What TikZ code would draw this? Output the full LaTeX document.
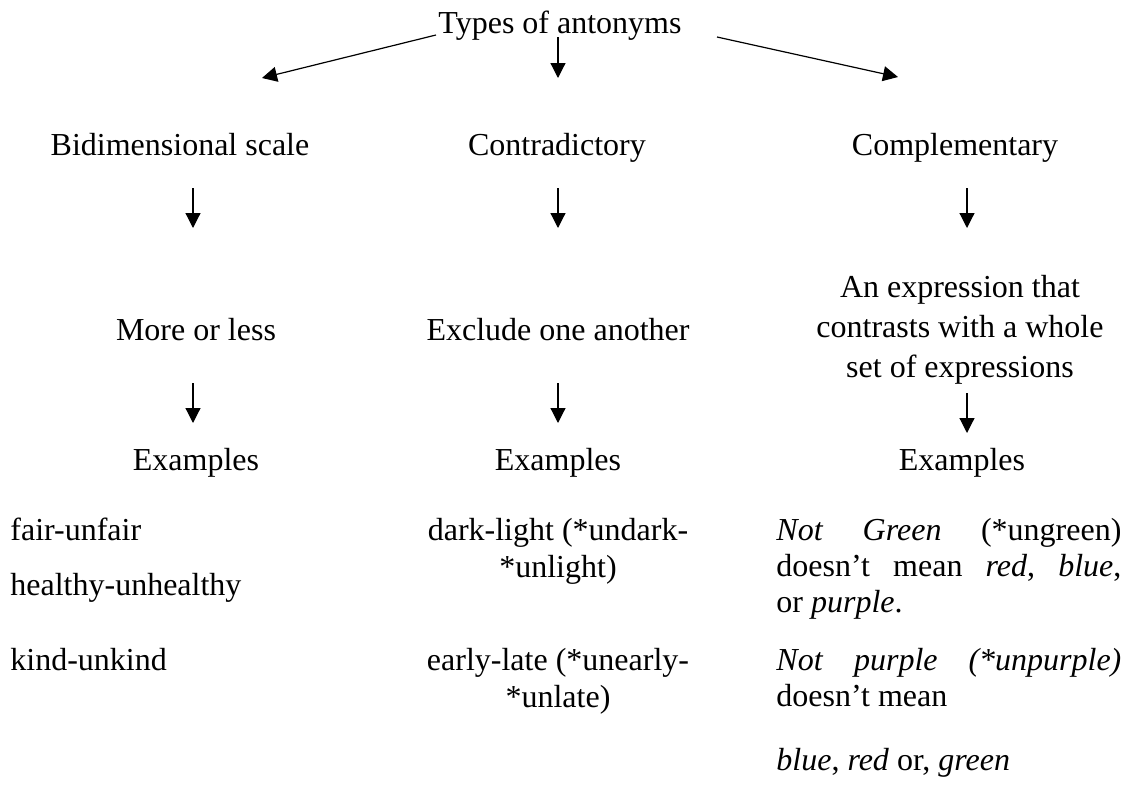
\documentclass[tikz,border=0pt]{standalone}
\usepackage{fontspec}
\setmainfont{Liberation Serif}
\usetikzlibrary{arrows.meta}
\begin{document}
\begin{tikzpicture}[x=0.5pt,y=-0.5pt,
  lbl/.style={font=\fontsize{16}{18}\selectfont, inner sep=0pt, anchor=base},
  lblw/.style={lbl, anchor=base west},
  link/.style={line width=0.6pt, -{Triangle[length=7.5pt,width=7.5pt]}}]
\useasboundingbox (0,0) rectangle (1131,787);

% title
\node[lbl] (types) at (560,33) {Types of antonyms};

% first level
\node[lbl] (bidim) at (180,155) {Bidimensional scale};
\node[lbl] (contra) at (557,155) {Contradictory};
\node[lbl] (compl) at (955,155) {Complementary};

% second level
\node[lbl] (more) at (196,340) {More or less};
\node[lbl] (excl) at (558,340) {Exclude one another};
\node[lbl] (expr1) at (960,297) {An expression that};
\node[lbl] (expr2) at (960,337) {contrasts with a whole};
\node[lbl] (expr3) at (960,377) {set of expressions};

% example headings
\node[lbl] (exA) at (196,470) {Examples};
\node[lbl] (exB) at (558,470) {Examples};
\node[lbl] (exC) at (962,470) {Examples};

% left column examples
\node[lblw] (fair) at (10,540) {fair-unfair};
\node[lblw] (healthy) at (10,595) {healthy-unhealthy};
\node[lblw] (kind) at (10,670) {kind-unkind};

% middle column examples
\node[lbl] (dark1) at (558,540) {dark-light (*undark-};
\node[lbl] (dark2) at (558,577) {*unlight)};
\node[lbl] (early1) at (558,670) {early-late (*unearly-};
\node[lbl] (early2) at (558,707) {*unlate)};

% right column examples (justified lines)
\node[lblw] (green1) at (776,540) {\hbox to 172.5pt{\textit{Not}\hfill\textit{Green}\hfill(*ungreen)}};
\node[lblw] (green2) at (776,576) {\hbox to 172.5pt{doesn’t\hfill mean\hfill\textit{red},\hfill\textit{blue},}};
\node[lblw] (green3) at (776,612) {or \textit{purple}.};
\node[lblw] (purp1) at (776,670) {\hbox to 172.5pt{\textit{Not}\hfill\textit{purple}\hfill\textit{(*unpurple)}}};
\node[lblw] (purp2) at (776,706) {doesn’t mean};
\node[lblw] (purp3) at (776,770) {\textit{blue}, \textit{red} or, \textit{green}};

% arrow end points
\coordinate (tL) at (436,35);
\coordinate (tM) at (558,37);
\coordinate (tR) at (717,37);
\coordinate (hL) at (262,78);
\coordinate (hM) at (558,78);
\coordinate (hR) at (898,77);

\coordinate (a1s) at (193,188);  \coordinate (a1e) at (193,228);
\coordinate (b1s) at (558,188);  \coordinate (b1e) at (558,228);
\coordinate (c1s) at (967,188);  \coordinate (c1e) at (967,228);
\coordinate (a2s) at (193,383);  \coordinate (a2e) at (193,423);
\coordinate (b2s) at (558,383);  \coordinate (b2e) at (558,423);
\coordinate (c2s) at (967,393);  \coordinate (c2e) at (967,433);

% connectors
\draw[link] (tL) -- (hL);
\draw[link] (tM) -- (hM);
\draw[link] (tR) -- (hR);
\draw[link] (a1s) -- (a1e);
\draw[link] (b1s) -- (b1e);
\draw[link] (c1s) -- (c1e);
\draw[link] (a2s) -- (a2e);
\draw[link] (b2s) -- (b2e);
\draw[link] (c2s) -- (c2e);
\end{tikzpicture}
\end{document}
